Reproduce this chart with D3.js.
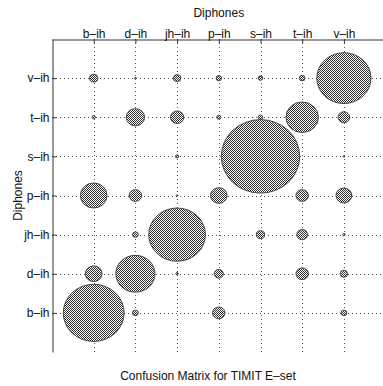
<!DOCTYPE html>
<html><head><meta charset="utf-8">
<script src="https://cdn.jsdelivr.net/npm/d3@7"></script>
<style>
html,body{margin:0;padding:0;background:#fff;}
svg{display:block;font-family:"Liberation Sans",Arial,Helvetica,sans-serif;}
</style></head>
<body>
<svg id="chart" width="383" height="386"></svg>
<script>
// Diphone labels (columns = classified as, rows = true class)
const colLabels = ["b–ih","d–ih","jh–ih","p–ih","s–ih","t–ih","v–ih"];
const rowLabels = ["b–ih","d–ih","jh–ih","p–ih","s–ih","t–ih","v–ih"]; // bottom to top
// Circle radius (fraction of a cell) per row, in column order
const row_b  = [0.73, 0.07, 0,    0.15, 0,    0,    0.07];
const row_d  = [0.20, 0.47, 0.03, 0.11, 0,    0.15, 0.09];
const row_jh = [0,    0.07, 0.68, 0,    0.10, 0.13, 0.03];
const row_p  = [0.32, 0.15, 0.02, 0.20, 0,    0.15, 0.19];
const row_s  = [0,    0,    0.04, 0,    0.94, 0,    0.02];
const row_t  = [0.04, 0.22, 0.16, 0.05, 0.055,0.39, 0.14];
const row_v  = [0.10, 0.02, 0.09, 0.065,0.055,0.07, 0.65];
const matrix = [row_b,row_d,row_jh,row_p,row_s,row_t,row_v];

(function(){
const svg = d3.select("#chart");
const pL = 52, pR = 385.6, pT = 39, pB = 352;

const x = d3.scalePoint().domain(colLabels).range([pL, pR]).padding(1);
const y = d3.scalePoint().domain(rowLabels).range([pB, pT]).padding(1);
const rScale = d3.scaleLinear().domain([0,1]).range([0,1]);

// checker pattern built as a pixel image
const cv = document.createElement("canvas");
cv.width = 8; cv.height = 8;
const ctx = cv.getContext("2d");
ctx.fillStyle = "#fff"; ctx.fillRect(0,0,8,8);
ctx.fillStyle = "#2e2e2e";
for (let i=0;i<8;i++) for (let j=0;j<8;j++) if ((i+j)%2===0) ctx.fillRect(i,j,1,1);
const url = cv.toDataURL("image/png");
const defs = svg.append("defs");
const pat = defs.append("pattern").attr("id","chk").attr("patternUnits","userSpaceOnUse")
  .attr("x",0).attr("y",0).attr("width",8).attr("height",8);
pat.append("image").attr("href",url).attr("x",0).attr("y",0).attr("width",8).attr("height",8)
  .style("image-rendering","pixelated");

// grid
const grid = svg.append("g").attr("stroke","#555").attr("stroke-width",1)
  .attr("stroke-dasharray","1,3").attr("shape-rendering","crispEdges");
grid.selectAll("line.v").data(colLabels).join("line").attr("class","v")
  .attr("x1",d=>Math.round(x(d))+0.5).attr("x2",d=>Math.round(x(d))+0.5)
  .attr("y1",pT).attr("y2",pB);
grid.selectAll("line.h").data(rowLabels).join("line").attr("class","h")
  .attr("y1",d=>Math.round(y(d))+0.5).attr("y2",d=>Math.round(y(d))+0.5)
  .attr("x1",pL).attr("x2",383);

// axes
const xAxis = d3.axisTop(x).tickSizeInner(-4).tickSizeOuter(0).tickPadding(2);
const yAxis = d3.axisLeft(y).tickSizeInner(-4).tickSizeOuter(0).tickPadding(3);
const gx = svg.append("g").attr("transform",`translate(0,${pT+0.5})`).call(xAxis);
const gy = svg.append("g").attr("transform",`translate(${pL+0.5},0)`).call(yAxis);
[gx,gy].forEach(g=>{
  g.select(".domain").attr("stroke","#333");
  g.selectAll(".tick line").attr("stroke","#333");
  g.selectAll(".tick text").attr("font-size",12).attr("fill","#111")
    .attr("font-family","Liberation Sans, Arial, sans-serif");
});

// bubbles
const stepX = x.step(), stepY = y.step();
const cells = [];
matrix.forEach((row,ri)=>row.forEach((v,ci)=>{ if(v>0) cells.push({r:rowLabels[ri],c:colLabels[ci],v}); }));
svg.append("g").selectAll("ellipse").data(cells).join("ellipse")
  .attr("cx",d=>x(d.c)).attr("cy",d=>y(d.r))
  .attr("rx",d=>rScale(d.v)*stepX).attr("ry",d=>rScale(d.v)*stepY)
  .attr("fill","url(#chk)").attr("stroke","#444").attr("stroke-width",1);

// titles
svg.append("text").attr("x",(pL+pR)/2).attr("y",17).attr("text-anchor","middle")
  .attr("font-size",12).attr("fill","#111").text("Diphones");
svg.append("text").attr("transform",`translate(22,${(pT+pB)/2}) rotate(-90)`)
  .attr("text-anchor","middle").attr("font-size",12).attr("fill","#111").text("Diphones");
svg.append("text").attr("x",208).attr("y",380).attr("text-anchor","middle")
  .attr("font-size",12).attr("fill","#111").text("Confusion Matrix for TIMIT E–set");
})();
</script>
</body></html>
